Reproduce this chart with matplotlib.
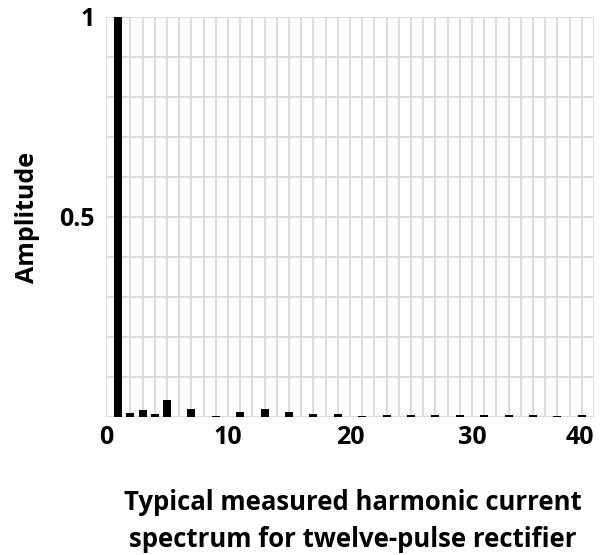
import numpy as np
import matplotlib.pyplot as plt
from matplotlib.ticker import MultipleLocator

# harmonic order and measured amplitude (per unit of fundamental)
harmonics = [1, 2, 3, 4, 5, 7, 9, 11, 13, 15, 17, 19, 21, 23, 25, 27, 29, 31, 33, 35, 37, 39]
amplitude = [1.0, 0.010, 0.018, 0.007, 0.042, 0.020, 0.002, 0.012, 0.020, 0.012, 0.007,
             0.007, 0.002, 0.006, 0.006, 0.006, 0.006, 0.006, 0.006, 0.006, 0.003, 0.006]

x_ticks = [0, 10, 20, 30, 40]
y_ticks = [0.5, 1]
y_tick_labels = ["0.5", "1"]

plt.rcParams["font.family"] = ["Open Sans", "DejaVu Sans"]
plt.rcParams["font.weight"] = "bold"

fig = plt.figure(figsize=(6.04, 5.55), dpi=100)
ax = fig.add_axes([106 / 604, 1 - 417 / 555, 488 / 604, 400 / 555])

ax.bar(harmonics, amplitude, width=0.65, color="black", zorder=3)

ax.set_xlim(0, 40)
ax.set_ylim(0, 1)
ax.xaxis.set_minor_locator(MultipleLocator(1))
ax.yaxis.set_minor_locator(MultipleLocator(0.1))
ax.set_xticks(x_ticks)
ax.set_xticklabels([str(v) for v in x_ticks], fontsize=18, fontweight="bold")
ax.get_xticklabels()[-1].set_ha("right")
ax.set_yticks(y_ticks)
ax.set_yticklabels(y_tick_labels, fontsize=18, fontweight="bold")
ax.tick_params(which="both", length=0)
ax.tick_params(axis="x", pad=6)
ax.tick_params(axis="y", pad=8)
ax.grid(True, which="both", color="#d9d9d9", linewidth=1.3, zorder=0)
for s in ax.spines.values():
    s.set_visible(False)

ax.set_ylabel("Amplitude", fontsize=18, fontweight="bold", labelpad=14)

fig.text(0.584, 0.061, "Typical measured harmonic current\nspectrum for twelve-pulse rectifier",
         ha="center", va="center", fontsize=18.5, fontweight="bold", linespacing=1.45)

fig.savefig("out.png", dpi=100)
